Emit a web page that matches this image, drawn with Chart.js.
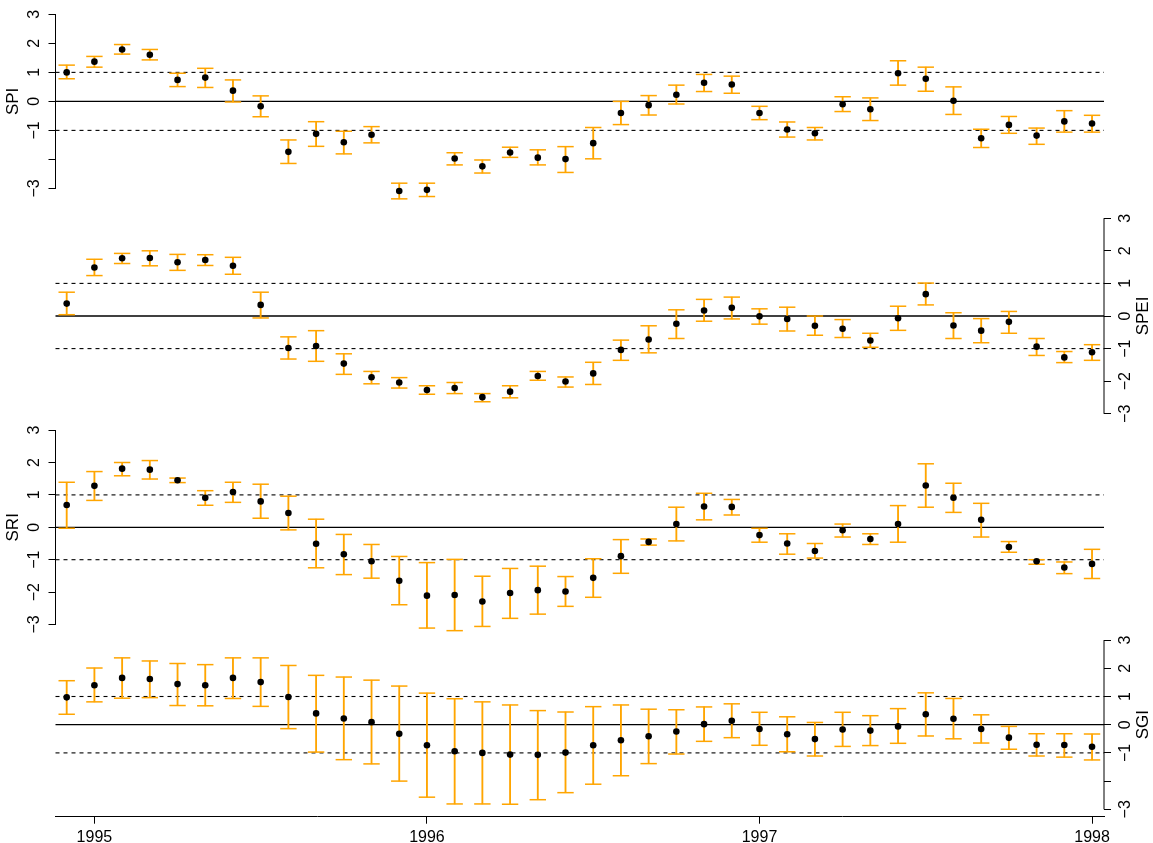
<!DOCTYPE html>
<html>
<head>
<meta charset="utf-8">
<script src="https://cdn.jsdelivr.net/npm/chart.js@4/dist/chart.umd.min.js"></script>
<style>
  html, body { margin: 0; padding: 0; background: #fff; }
  #wrap { position: relative; width: 1153px; height: 843px; }
  #wrap canvas { position: absolute; left: 0; top: 0; }
</style>
</head>
<body>
<div id="wrap">
  <canvas id="cSPI" width="1153" height="843"></canvas>
  <canvas id="cSPEI" width="1153" height="843"></canvas>
  <canvas id="cSRI" width="1153" height="843"></canvas>
  <canvas id="cSGI" width="1153" height="843"></canvas>
</div>
<script>
// Monthly drought indices, Dec 1994 – Jan 1998, with uncertainty ranges
const months = [
  '1994-12',
  '1995-01','1995-02','1995-03','1995-04','1995-05','1995-06','1995-07','1995-08','1995-09','1995-10','1995-11','1995-12',
  '1996-01','1996-02','1996-03','1996-04','1996-05','1996-06','1996-07','1996-08','1996-09','1996-10','1996-11','1996-12',
  '1997-01','1997-02','1997-03','1997-04','1997-05','1997-06','1997-07','1997-08','1997-09','1997-10','1997-11','1997-12',
  '1998-01'
];

const spi   = [1.00,1.37,1.79,1.61,0.74,0.82,0.37,-0.17,-1.74,-1.12,-1.41,-1.15,-3.09,-3.05,-1.97,-2.24,-1.76,-1.94,-1.99,-1.44,-0.40,-0.13,0.23,0.64,0.58,-0.40,-0.97,-1.10,-0.10,-0.27,0.97,0.78,0.02,-1.27,-0.81,-1.18,-0.69,-0.76];
const spiHi = [1.25,1.55,1.96,1.79,0.97,1.14,0.74,0.19,-1.33,-0.70,-1.03,-0.87,-2.82,-2.82,-1.77,-2.02,-1.58,-1.67,-1.56,-0.90,0.00,0.20,0.56,0.93,0.87,-0.17,-0.71,-0.90,0.16,0.12,1.40,1.18,0.50,-0.96,-0.52,-0.92,-0.32,-0.48];
const spiLo = [0.78,1.18,1.63,1.43,0.51,0.48,-0.02,-0.53,-2.14,-1.55,-1.81,-1.43,-3.36,-3.28,-2.19,-2.47,-1.93,-2.19,-2.45,-1.98,-0.80,-0.47,-0.09,0.34,0.28,-0.63,-1.23,-1.33,-0.35,-0.66,0.56,0.35,-0.45,-1.59,-1.10,-1.48,-1.06,-1.06];

const spei   = [0.38,1.49,1.77,1.78,1.65,1.72,1.54,0.34,-0.98,-0.92,-1.46,-1.88,-2.04,-2.27,-2.21,-2.49,-2.32,-1.84,-2.01,-1.76,-1.04,-0.72,-0.24,0.17,0.25,-0.01,-0.09,-0.30,-0.39,-0.75,-0.07,0.67,-0.29,-0.45,-0.18,-0.94,-1.27,-1.11];
const speiHi = [0.73,1.74,1.92,2.00,1.89,1.88,1.80,0.73,-0.64,-0.45,-1.16,-1.70,-1.89,-2.14,-2.04,-2.38,-2.14,-1.70,-1.87,-1.42,-0.74,-0.30,0.19,0.51,0.58,0.22,0.27,0.00,-0.11,-0.53,0.30,1.01,0.10,-0.08,0.14,-0.69,-1.09,-0.88];
const speiLo = [0.04,1.24,1.61,1.54,1.40,1.55,1.28,-0.06,-1.32,-1.39,-1.79,-2.08,-2.21,-2.40,-2.38,-2.63,-2.51,-1.97,-2.18,-2.10,-1.36,-1.13,-0.69,-0.16,-0.09,-0.25,-0.46,-0.59,-0.66,-0.96,-0.44,0.34,-0.69,-0.82,-0.53,-1.21,-1.43,-1.36];

const sri   = [0.69,1.28,1.81,1.78,1.45,0.91,1.09,0.80,0.44,-0.51,-0.83,-1.05,-1.65,-2.11,-2.09,-2.29,-2.03,-1.94,-1.98,-1.56,-0.89,-0.45,0.10,0.64,0.63,-0.24,-0.50,-0.73,-0.09,-0.36,0.10,1.29,0.91,0.23,-0.61,-1.05,-1.24,-1.13];
const sriHi = [1.39,1.72,2.00,2.06,1.52,1.13,1.39,1.33,0.96,0.25,-0.22,-0.53,-0.90,-1.09,-0.99,-1.51,-1.27,-1.20,-1.52,-0.97,-0.38,-0.36,0.62,1.05,0.86,-0.03,-0.20,-0.50,0.10,-0.20,0.67,1.96,1.36,0.74,-0.44,-1.00,-1.07,-0.68];
const sriLo = [-0.03,0.83,1.59,1.49,1.38,0.68,0.77,0.28,-0.08,-1.25,-1.46,-1.57,-2.39,-3.11,-3.19,-3.06,-2.81,-2.68,-2.44,-2.16,-1.42,-0.55,-0.42,0.23,0.38,-0.46,-0.83,-0.95,-0.30,-0.53,-0.46,0.62,0.46,-0.30,-0.77,-1.14,-1.43,-1.58];

const sgi   = [0.97,1.40,1.66,1.62,1.44,1.40,1.66,1.51,0.98,0.40,0.22,0.09,-0.32,-0.73,-0.94,-1.00,-1.06,-1.07,-0.99,-0.73,-0.55,-0.41,-0.24,0.02,0.14,-0.15,-0.34,-0.51,-0.17,-0.21,-0.06,0.37,0.21,-0.15,-0.46,-0.71,-0.72,-0.78];
const sgiHi = [1.56,2.01,2.37,2.26,2.17,2.13,2.37,2.37,2.10,1.75,1.69,1.58,1.37,1.12,0.92,0.81,0.70,0.50,0.45,0.64,0.70,0.55,0.53,0.63,0.74,0.44,0.28,0.08,0.44,0.32,0.57,1.13,0.93,0.35,-0.06,-0.32,-0.32,-0.33];
const sgiLo = [0.37,0.81,0.94,0.96,0.68,0.67,0.93,0.65,-0.14,-0.97,-1.24,-1.39,-2.00,-2.57,-2.81,-2.81,-2.82,-2.66,-2.41,-2.11,-1.81,-1.38,-1.04,-0.59,-0.46,-0.73,-0.96,-1.11,-0.77,-0.74,-0.66,-0.40,-0.50,-0.65,-0.87,-1.11,-1.15,-1.25];

const yearTicks = [1995, 1996, 1997, 1998];
const yTicks = [3, 2, 1, 0, -1, -2, -3];
const refLevels = [1, 0, -1];

// ---- layout and styling ----
const W = 1153, H = 843;
const plotLeft = 55.5, plotRight = 1104;
const xMin = 1994.883, xMax = 1998.036;
const xAxisPx = 816.7;
const ORANGE = 'rgb(255,165,0)';
const FONT = '"Liberation Sans", Arial, Helvetica, sans-serif';

const toYear = s => { const [y, m] = s.split('-').map(Number); return y + (m - 1) / 12; };
const fmt = v => v < 0 ? '\u2212' + Math.abs(v) : String(v);

// y mapping per panel: pixel of zero, pixels per unit, vertical extent of the plot box
const panels = [
  { id: 'cSPI',  name: 'SPI',  side: 'left',  zeroPx: 97.3,  unit: 30.15, top: 2,   bottom: 205,     skip: [-2], v: spi,  lo: spiLo,  hi: spiHi },
  { id: 'cSPEI', name: 'SPEI', side: 'right', zeroPx: 316.0, unit: 32.6,  top: 207, bottom: 420,     skip: [],   v: spei, lo: speiLo, hi: speiHi },
  { id: 'cSRI',  name: 'SRI',  side: 'left',  zeroPx: 527.3, unit: 32.4,  top: 422, bottom: 635,     skip: [],   v: sri,  lo: sriLo,  hi: sriHi },
  { id: 'cSGI',  name: 'SGI',  side: 'right', zeroPx: 724.7, unit: 28.2,  top: 636, bottom: xAxisPx, skip: [-2], v: sgi,  lo: sgiLo,  hi: sgiHi, showX: true }
];

// Axis spine between -3 and 3, rotated tick labels and axis title
const axisDeco = {
  id: 'axisDeco',
  afterDraw(chart, args, o) {
    const s = chart.scales.y, ctx = chart.ctx;
    const left = o.side === 'left';
    const edge = left ? s.right : s.left;
    ctx.save();
    ctx.strokeStyle = '#000';
    ctx.lineWidth = 1;
    ctx.beginPath();
    ctx.moveTo(edge, s.getPixelForValue(3));
    ctx.lineTo(edge, s.getPixelForValue(-3));
    ctx.stroke();
    ctx.fillStyle = '#000';
    ctx.textAlign = 'center';
    ctx.textBaseline = 'middle';
    ctx.font = '16px ' + FONT;
    const labelX = left ? 35 : 1125.5;
    yTicks.forEach(v => {
      if (o.skip.includes(v)) return;
      ctx.save();
      ctx.translate(labelX, s.getPixelForValue(v));
      ctx.rotate(-Math.PI / 2);
      ctx.fillText(fmt(v), 0, 0);
      ctx.restore();
    });
    ctx.font = '17px ' + FONT;
    ctx.save();
    ctx.translate(left ? 13 : 1143, s.getPixelForValue(0));
    ctx.rotate(-Math.PI / 2);
    ctx.fillText(o.title, 0, 0);
    ctx.restore();
    ctx.restore();
  }
};

panels.forEach(p => {
  const xs = months.map(toYear);
  const yMax = (p.zeroPx - p.top) / p.unit;
  const yMin = -(p.bottom - p.zeroPx) / p.unit;

  const refSets = refLevels.map(l => ({
    type: 'line',
    data: [{ x: xMin, y: l }, { x: xMax, y: l }],
    borderColor: '#000',
    borderWidth: l === 0 ? 1.3 : 1.1,
    borderDash: l === 0 ? [] : [4, 4],
    pointRadius: 0,
    order: 10,
    clip: false
  }));

  const capSet = arr => ({
    type: 'scatter',
    data: xs.map((x, i) => ({ x, y: arr[i] })),
    pointStyle: 'line',
    pointRadius: 8.2,
    pointHoverRadius: 8.2,
    pointBorderColor: ORANGE,
    pointBorderWidth: 1.5,
    order: 3,
    clip: false
  });

  new Chart(document.getElementById(p.id), {
    type: 'scatter',
    data: {
      datasets: [
        ...refSets,
        {
          type: 'bar',
          data: xs.map((x, i) => ({ x, y: [p.lo[i], p.hi[i]] })),
          backgroundColor: ORANGE,
          borderWidth: 0,
          barThickness: 1.2,
          grouped: false,
          order: 5,
          clip: false
        },
        capSet(p.hi),
        capSet(p.lo),
        {
          type: 'scatter',
          data: xs.map((x, i) => ({ x, y: p.v[i] })),
          pointStyle: 'circle',
          pointRadius: 3.3,
          pointHoverRadius: 3.3,
          pointBackgroundColor: '#000',
          pointBorderWidth: 0,
          order: 0,
          clip: false
        }
      ]
    },
    options: {
      responsive: false,
      animation: false,
      devicePixelRatio: 1,
      events: [],
      layout: {
        padding: {
          left: p.side === 'right' ? plotLeft : 0,
          right: p.side === 'left' ? W - plotRight : 0,
          top: p.top,
          bottom: p.showX ? 0 : H - p.bottom
        }
      },
      plugins: {
        legend: { display: false },
        tooltip: { enabled: false },
        axisDeco: { side: p.side, title: p.name, skip: p.skip }
      },
      scales: {
        x: {
          type: 'linear',
          min: xMin,
          max: xMax,
          offset: false,
          display: !!p.showX,
          afterBuildTicks: s => { s.ticks = yearTicks.map(v => ({ value: v })); },
          afterFit: s => { if (p.showX) s.height = H - xAxisPx; },
          ticks: {
            callback: v => String(v),
            color: '#000',
            font: { family: FONT, size: 16 },
            padding: 4,
            maxRotation: 0,
            minRotation: 0,
            autoSkip: false
          },
          grid: { offset: false, drawOnChartArea: false, drawTicks: true, tickLength: 7, tickColor: '#000', tickWidth: 1 },
          border: { display: true, color: '#000', width: 1 }
        },
        y: {
          type: 'linear',
          position: p.side,
          min: yMin,
          max: yMax,
          afterBuildTicks: s => { s.ticks = yTicks.map(v => ({ value: v })); },
          afterFit: s => { s.width = p.side === 'left' ? plotLeft : W - plotRight; },
          ticks: { display: false },
          grid: { drawOnChartArea: false, drawTicks: true, tickLength: 7, tickColor: '#000', tickWidth: 1 },
          border: { display: false }
        }
      }
    },
    plugins: [axisDeco]
  });
});
</script>
</body>
</html>
